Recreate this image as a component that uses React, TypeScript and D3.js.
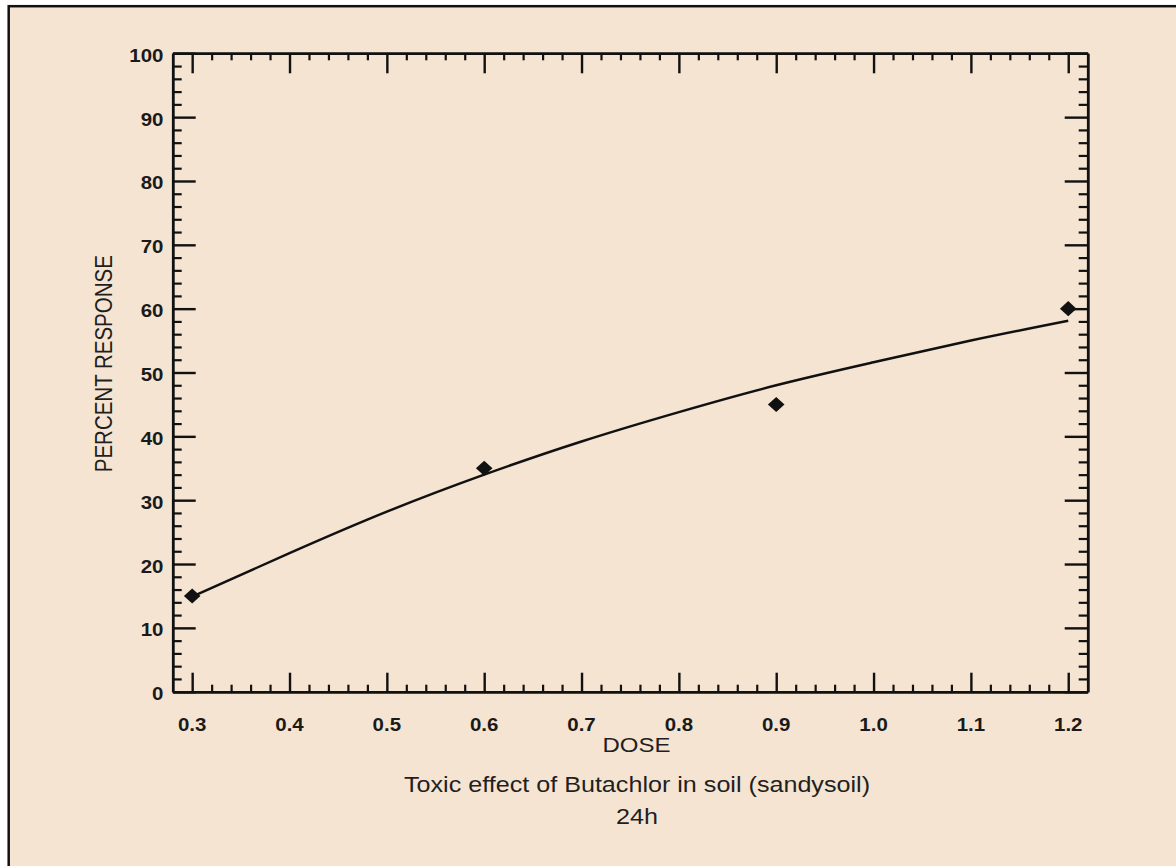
import { useEffect, useRef } from 'react';
import * as d3 from 'd3';

// observed points
const obsDose = [0.3, 0.6, 0.9, 1.2];
const obsResponse = [15, 35, 45, 60];

// fitted curve
const fitDose = [0.3, 0.4, 0.5, 0.6, 0.7, 0.8, 0.9, 1.0, 1.1, 1.2];
const fitResponse = [14.9, 21.7, 28.2, 34.0, 39.2, 43.8, 48.0, 51.6, 55.0, 58.1];

const doseTicks = [0.3, 0.4, 0.5, 0.6, 0.7, 0.8, 0.9, 1.0, 1.1, 1.2];
const responseTicks = [0, 10, 20, 30, 40, 50, 60, 70, 80, 90, 100];

const xLabel = 'DOSE';
const yLabel = 'PERCENT RESPONSE';
const titleLines = ['Toxic effect of Butachlor in soil (sandysoil)', '24h'];

const W = 1176;
const H = 866;
const FONT = '"Liberation Sans", Arial, sans-serif';
const STRETCH = 1.17; // the source picture is a bit wider than tall
const INK = '#111';

const ToxicityChart = () => {
  const svgRef = useRef<SVGSVGElement>(null);

  useEffect(() => {
    const svg = d3.select(svgRef.current);
    svg.selectAll('*').remove();

    const left = 172.7, right = 1087.7, top = 53.3, bottom = 691.7;

    const x = d3.scaleLinear().domain([0.28, 1.22]).range([left, right]);
    const y = d3.scaleLinear().domain([0, 100]).range([bottom, top]);

    // page + frame
    svg.append('rect').attr('width', W).attr('height', H).attr('fill', '#fff');
    svg.append('rect')
      .attr('x', 8.7).attr('y', 6.2)
      .attr('width', W + 20).attr('height', H + 20)
      .attr('fill', '#F5E4D1')
      .attr('stroke', '#111')
      .attr('stroke-width', 2.5);

    // minor tick values (4 between each major)
    const xMinor = d3.range(16, 61).filter(i => i % 5 !== 0).map(i => i / 50);
    const yMinor = d3.range(1, 50).filter(i => i % 5 !== 0).map(i => i * 2);

    const styleAxis = (g, width) => {
      g.select('.domain').attr('stroke', INK).attr('stroke-width', 2.5);
      g.selectAll('.tick line').attr('stroke', INK).attr('stroke-width', width);
      g.selectAll('.tick text').remove();
    };

    const addAxis = (axisFn, scale, pos, majors, minors, majorLen, minorLen) => {
      const tr = axisFn === d3.axisBottom || axisFn === d3.axisTop
        ? `translate(0,${pos})` : `translate(${pos},0)`;
      svg.append('g')
        .attr('transform', tr)
        .call(axisFn(scale).tickValues(minors).tickSize(-minorLen).tickSizeOuter(0))
        .call(g => styleAxis(g, 2.2));
      svg.append('g')
        .attr('transform', tr)
        .call(axisFn(scale).tickValues(majors).tickSize(-majorLen).tickSizeOuter(0))
        .call(g => styleAxis(g, 2.4));
    };

    addAxis(d3.axisBottom, x, bottom, doseTicks, xMinor, 19, 7);
    addAxis(d3.axisTop, x, top, doseTicks, xMinor, 20, 7);
    addAxis(d3.axisLeft, y, left, responseTicks, yMinor, 23, 9);
    addAxis(d3.axisRight, y, right, responseTicks, yMinor, 23, 9);

    // tick labels
    svg.append('g')
      .selectAll('text')
      .data(doseTicks)
      .enter().append('text')
      .attr('transform', d => `translate(${x(d)},730.5) scale(${STRETCH},1)`)
      .attr('text-anchor', 'middle')
      .attr('font-family', FONT)
      .attr('font-weight', 'bold')
      .attr('font-size', 17.5)
      .attr('fill', '#1a1a1a')
      .text(d => d.toFixed(1));

    svg.append('g')
      .selectAll('text')
      .data(responseTicks)
      .enter().append('text')
      .attr('transform', d => `translate(163.5,${y(d) + 8.5})  scale(${STRETCH},1)`)
      .attr('text-anchor', 'end')
      .attr('font-family', FONT)
      .attr('font-weight', 'bold')
      .attr('font-size', 17.5)
      .attr('fill', '#1a1a1a')
      .text(d => d);

    // axis titles
    svg.append('text')
      .attr('transform', `translate(636.5,752) scale(${STRETCH},1)`)
      .attr('text-anchor', 'middle')
      .attr('font-family', FONT)
      .attr('font-size', 20.5)
      .attr('fill', '#1f1f1f')
      .text(xLabel);

    svg.append('text')
      .attr('transform', `translate(111.5,363.7) scale(${STRETCH},1) rotate(-90)`)
      .attr('text-anchor', 'middle')
      .attr('font-family', FONT)
      .attr('font-size', 20.5)
      .attr('fill', '#1f1f1f')
      .text(yLabel);

    // caption under the plot
    svg.append('g')
      .selectAll('text')
      .data(titleLines)
      .enter().append('text')
      .attr('transform', (d, i) => `translate(637,${792 + i * 31.6}) scale(${STRETCH},1)`)
      .attr('text-anchor', 'middle')
      .attr('font-family', FONT)
      .attr('font-size', 21.5)
      .attr('fill', '#1f1f1f')
      .text(d => d);

    // fitted curve
    const fit = fitDose.map((d, i) => [d, fitResponse[i]]);
    const line = d3.line()
      .x(d => x(d[0]))
      .y(d => y(d[1]))
      .curve(d3.curveNatural);

    svg.append('path')
      .datum(fit)
      .attr('d', line)
      .attr('fill', 'none')
      .attr('stroke', INK)
      .attr('stroke-width', 2.5);

    // observed points as diamonds
    const diamond = d3.symbol().type(d3.symbolDiamond2).size(145);
    svg.append('g')
      .selectAll('path')
      .data(obsDose)
      .enter().append('path')
      .attr('d', diamond)
      .attr('transform', (d, i) => `translate(${x(d)},${y(obsResponse[i])}) scale(1.1,1)`)
      .attr('fill', INK);
  }, []);

  return (
    <svg
      ref={svgRef}
      width={W}
      height={H}
      style={{ position: 'absolute', left: 0, top: 0, display: 'block' }}
    />
  );
};

export default function App() {
  return <ToxicityChart />;
}
